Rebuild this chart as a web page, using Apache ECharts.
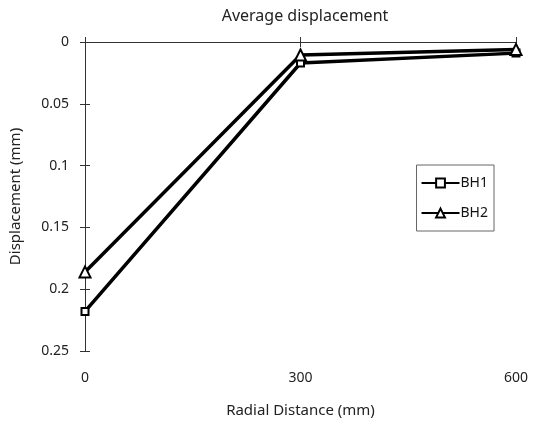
<!DOCTYPE html>
<html>
<head>
<meta charset="utf-8">
<script src="https://cdn.jsdelivr.net/npm/echarts@6/dist/echarts.min.js"></script>
<style>
  html, body { margin: 0; padding: 0; background: #fff; }
  #chart { width: 535px; height: 424px; }
</style>
</head>
<body>
<div id="chart"></div>
<script>
// radial distance (mm)
var distances = [0, 300, 600];
// average displacement (mm)
var bh1 = [0.218, 0.017, 0.009];
var bh2 = [0.186, 0.0105, 0.006];

var font = 'Noto Sans';

function pairs(ys) {
  return distances.map(function (x, i) { return [x, ys[i]]; });
}

var chart = echarts.init(document.getElementById('chart'));

var option = {
  backgroundColor: '#fff',
  animation: false,
  title: {
    text: 'Average displacement',
    left: 300, top: 3, textAlign: 'center',
    textStyle: { fontFamily: font, fontWeight: 'normal', fontSize: 16, color: '#222' }
  },
  grid: { left: 84, right: 19, top: 42, bottom: 73 },
  legend: {
    right: 41, top: 165,
    orient: 'vertical',
    borderColor: '#666', borderWidth: 1, borderRadius: 0,
    padding: [11, 6, 11, 4],
    itemGap: 16,
    itemWidth: 38, itemHeight: 11,
    textStyle: { fontFamily: font, fontSize: 14, color: '#111', padding: [0, 0, 0, -4] },
    data: ['BH1', 'BH2']
  },
  xAxis: [{
    type: 'value', min: 0, max: 600, interval: 300,
    name: 'Radial Distance (mm)', nameLocation: 'middle', nameGap: 52,
    nameTextStyle: { fontFamily: font, fontSize: 15, color: '#222' },
    axisLine: { lineStyle: { color: '#333', width: 1 } },
    axisTick: { inside: true, length: 5, lineStyle: { color: '#333' } },
    axisLabel: { fontFamily: font, fontSize: 14, color: '#222', margin: 20 },
    splitLine: { show: false }
  }, {
    type: 'value', position: 'top', min: 0, max: 600, interval: 300,
    axisLine: { show: true, lineStyle: { color: '#333', width: 1 } },
    axisTick: { inside: true, length: 5, lineStyle: { color: '#333' } },
    axisLabel: { show: false },
    splitLine: { show: false }
  }],
  yAxis: [{
    type: 'value', inverse: true, min: 0, max: 0.25, interval: 0.05,
    name: 'Displacement (mm)', nameLocation: 'middle', nameGap: 62,
    nameTextStyle: { fontFamily: font, fontSize: 15, color: '#222' },
    axisLine: { show: true, lineStyle: { color: '#333', width: 1 } },
    axisTick: { show: true, inside: true, length: 5, lineStyle: { color: '#333' } },
    axisLabel: { fontFamily: font, fontSize: 14, color: '#222', margin: 16 },
    splitLine: { show: false }
  }, {
    type: 'value', position: 'right', inverse: true, min: 0, max: 0.25, interval: 0.05,
    axisLine: { show: true, lineStyle: { color: '#333', width: 1 } },
    axisTick: { show: true, inside: true, length: 5, lineStyle: { color: '#333' } },
    axisLabel: { show: false },
    splitLine: { show: false }
  }],
  series: [{
    name: 'BH1', type: 'line',
    data: pairs(bh1),
    symbol: 'rect', symbolSize: 7,
    lineStyle: { color: '#000', width: 3.5 },
    itemStyle: { color: '#fff', borderColor: '#000', borderWidth: 2 }
  }, {
    name: 'BH2', type: 'line',
    data: pairs(bh2),
    symbol: 'triangle', symbolSize: 11,
    lineStyle: { color: '#000', width: 3.5 },
    itemStyle: { color: '#fff', borderColor: '#000', borderWidth: 2 }
  }]
};

chart.setOption(option);
</script>
</body>
</html>
